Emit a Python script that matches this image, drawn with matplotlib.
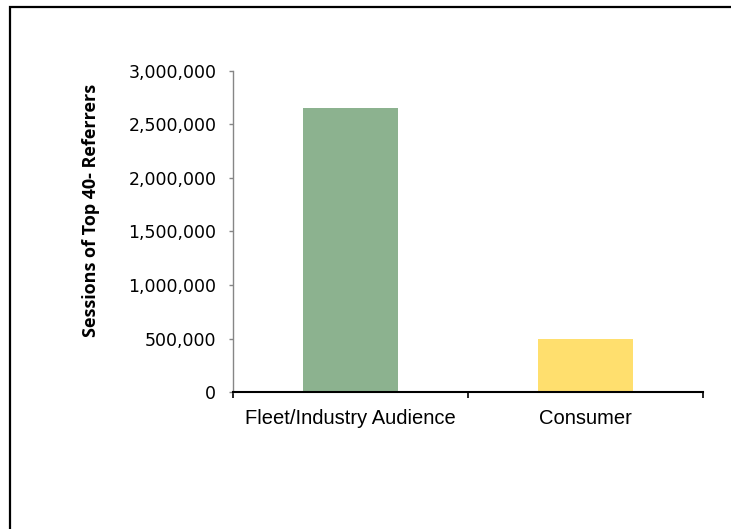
import matplotlib
matplotlib.use("Agg")
from matplotlib import pyplot as plt
from matplotlib.patches import Rectangle
from matplotlib.ticker import FuncFormatter

categorias = ["Fleet/Industry Audience", "Consumer"]
sesiones = [2654000, 495000]
colores = ["#8cb28f", "#ffdf6e"]
yticks = [0, 500000, 1000000, 1500000, 2000000, 2500000, 3000000]

fig = plt.figure(figsize=(7.31, 5.29), dpi=100)
ax = fig.add_axes([233 / 731, 137 / 529, 470 / 731, 321 / 529])

# Marco del grafico (solo se ve arriba y a la izquierda)
fig.patches.append(Rectangle((10 / 731, -0.1), 1.2, 1.1 - 7 / 529, transform=fig.transFigure,
                             fill=False, edgecolor="black", linewidth=1.6, clip_on=False))

posiciones = [0.5 + i for i in range(len(categorias))]
ax.bar(posiciones, sesiones, width=0.404, color=colores)

ax.set_xlim(0, len(categorias))
ax.set_ylim(0, 3000000)
ax.set_yticks(yticks)
ax.yaxis.set_major_formatter(FuncFormatter(lambda v, p: f"{int(v):,}"))

ax.set_xticks(range(len(categorias) + 1))
ax.set_xticklabels([])
ax.set_xticks(posiciones, minor=True)
ax.set_xticklabels(categorias, minor=True, fontsize=14.5, family="Liberation Sans")
ax.tick_params(axis="x", which="minor", length=0, pad=12)
ax.tick_params(axis="x", which="major", length=4, width=1.2, color="black", direction="out")
ax.tick_params(axis="y", length=3, width=1, color="#868686", pad=9, labelsize=12.5)
for lab in ax.get_yticklabels():
    lab.set_family("DejaVu Sans")

for lado in ["top", "right"]:
    ax.spines[lado].set_visible(False)
ax.spines["left"].set_color("#868686")
ax.spines["left"].set_linewidth(1)
ax.spines["bottom"].set_color("black")
ax.spines["bottom"].set_linewidth(1.5)

ax.set_ylabel("Sessions of Top 40- Referrers", fontsize=13, fontweight="bold",
              family="Open Sans", labelpad=0)
ax.yaxis.set_label_coords(-0.284, 0.567)

fig.savefig("out.png", dpi=100)
